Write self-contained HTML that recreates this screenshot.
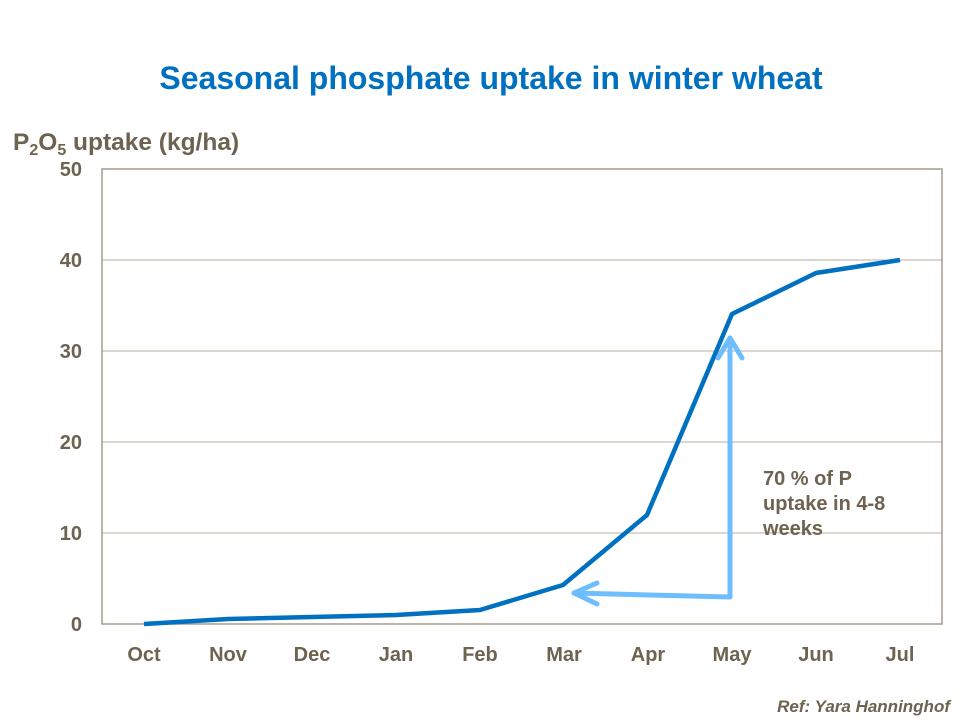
<!DOCTYPE html>
<html><head><style>body{margin:0;background:#fff}svg{display:block}</style></head><body>
<svg width="960" height="720" viewBox="0 0 960 720" xmlns="http://www.w3.org/2000/svg" font-family="Liberation Sans, Arial, sans-serif">
<text x="491" y="89" text-anchor="middle" font-size="32" font-weight="bold" fill="#0070C0">Seasonal phosphate uptake in winter wheat</text>
<text x="13" y="150" font-size="24.5" font-weight="bold" fill="#6E6250">P<tspan font-size="16" dy="5">2</tspan><tspan dy="-5">O</tspan><tspan font-size="16" dy="5">5</tspan><tspan dy="-5"> uptake (kg/ha)</tspan></text>
<g stroke="#B8AFA3" stroke-width="1">
<line x1="102" y1="260" x2="942" y2="260"/><line x1="102" y1="351" x2="942" y2="351"/><line x1="102" y1="442" x2="942" y2="442"/><line x1="102" y1="533" x2="942" y2="533"/>
</g>
<rect x="102" y="169" width="840" height="455" fill="none" stroke="#A69B8C" stroke-width="1.5"/>
<g font-size="20" font-weight="bold" fill="#6E6250" text-anchor="end">
<text x="82" y="176">50</text><text x="82" y="267">40</text><text x="82" y="358">30</text><text x="82" y="449">20</text><text x="82" y="540">10</text><text x="82" y="631">0</text>
</g>
<g font-size="20" font-weight="bold" fill="#6E6250" text-anchor="middle">
<text x="144" y="661">Oct</text><text x="228" y="661">Nov</text><text x="312" y="661">Dec</text><text x="396" y="661">Jan</text><text x="480" y="661">Feb</text><text x="564" y="661">Mar</text><text x="648" y="661">Apr</text><text x="732" y="661">May</text><text x="816" y="661">Jun</text><text x="900" y="661">Jul</text>
</g>
<polyline points="144,624 228,619 312,617 396,615 480,610 563,585 647,515 732,314 816,273 900,260" fill="none" stroke="#0070C0" stroke-width="4.5" stroke-linejoin="round"/>
<g stroke="#6EBEFF" stroke-width="5" fill="none" stroke-linecap="round" stroke-linejoin="round">
<polyline points="730,597 730,338"/><polyline points="718,358 730,338 742,358"/>
<polyline points="730,597 574,593"/><polyline points="597,583 574,593 597,604"/>
</g>
<g font-size="20" font-weight="bold" fill="#6E6250">
<text x="763" y="485">70 % of P</text><text x="763" y="510">uptake in 4-8</text><text x="763" y="535">weeks</text>
</g>
<text x="950" y="712" text-anchor="end" font-size="17" font-weight="bold" font-style="italic" fill="#6E6250">Ref: Yara Hanninghof</text>
</svg>
</body></html>
